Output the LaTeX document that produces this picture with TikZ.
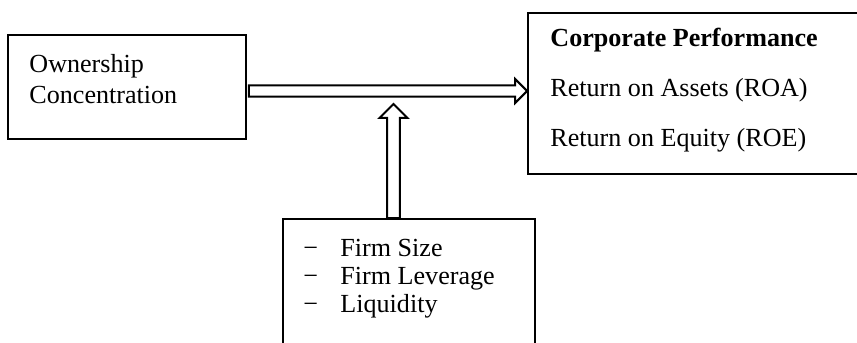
\documentclass[tikz,border=0pt]{standalone}
\usepackage{fontspec}
\setmainfont{Liberation Serif}
\usetikzlibrary{calc, fit}
\newcommand{\txtsize}{\fontsize{12pt}{14pt}\selectfont}
\newcommand{\hollowarrow}[5]{%
  % #1 = cauda, #2 = ponta, #3 = meia largura da haste, #4 = meia largura da cabeca, #5 = comprimento da cabeca
  \coordinate (hbase) at ($(#2)!#5!(#1)$);
  \draw[line width=0.95pt, line join=miter, fill=white]
    ($(#1)!#3!90:(#2)$) -- ($(hbase)!#3!90:(#2)$) --
    ($(hbase)!#4!90:(#2)$) -- (#2) --
    ($(hbase)!#4!-90:(#2)$) -- ($(hbase)!#3!-90:(#2)$) --
    ($(#1)!#3!-90:(#2)$) -- cycle;
}

\begin{document}
\begin{tikzpicture}[x=0.46pt, y=-0.46pt,
    every node/.append style={font=\txtsize},
    box/.style={draw, line width=0.8pt, inner sep=0pt},
    txt/.style={anchor=base west, inner sep=0pt}]
    \useasboundingbox (0,0) rectangle (857,343);
    \clip (0,0) rectangle (857,343);

    % caixas
    \node[box, fit={(8,35) (246,139)}] (own) {};
    \node[box, fit={(528,13) (880,174)}] (perf) {};
    \node[box, fit={(283,219) (535,370)}] (ctrl) {};

    % textos
    \node[txt] (own1) at (29,73) {Ownership};
    \node[txt] (own2) at (29,104) {Concentration};
    \node[txt, font=\txtsize\bfseries] (perf0) at (550,47) {Corporate Performance};
    \node[txt] (roa) at (550,97) {Return on Assets (ROA)};
    \node[txt] (roe) at (550,147) {Return on Equity (ROE)};
    \foreach \fator [count=\i] in {Firm Size, Firm Leverage, Liquidity} {
      \node[txt] (dash\i) at (303, {257+27.5*(\i-1)}) {−};
      \node[txt] (ctrl\i) at (340, {257+27.5*(\i-1)}) {\fator};
    }

    % setas
    \coordinate (htail) at ($(own.east)+(2,4)$);
    \coordinate (htip) at (htail -| perf.west);
    \coordinate (vtip) at (393.5,104);
    \coordinate (vtail) at (vtip |- ctrl.north);
    \hollowarrow{htail}{htip}{2.6pt}{5.5pt}{5.5pt}
    \hollowarrow{vtail}{vtip}{2.9pt}{6.4pt}{6.4pt}
\end{tikzpicture}
\end{document}
